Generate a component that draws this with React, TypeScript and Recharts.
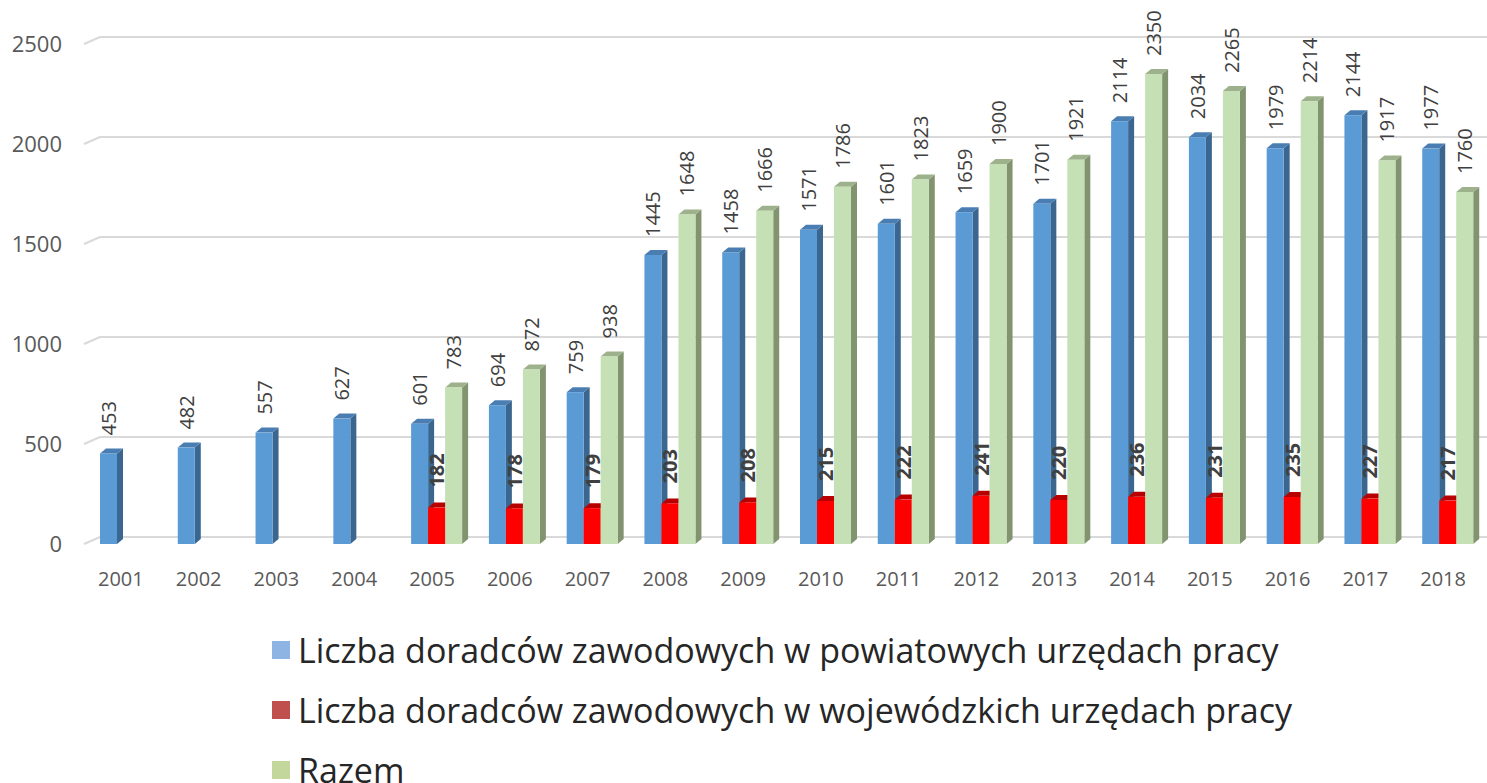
import React from 'react';
import { BarChart, Bar, XAxis, YAxis, CartesianGrid, LabelList } from 'recharts';

// lata + liczba doradców zawodowych
const years = ['2001', '2002', '2003', '2004', '2005', '2006', '2007', '2008', '2009', '2010', '2011', '2012', '2013', '2014', '2015', '2016', '2017', '2018'];
const powiatowe = [453, 482, 557, 627, 601, 694, 759, 1445, 1458, 1571, 1601, 1659, 1701, 2114, 2034, 1979, 2144, 1977];
const wojewodzkie = [null, null, null, null, 182, 178, 179, 203, 208, 215, 222, 241, 220, 236, 231, 235, 227, 217];
const razem = [null, null, null, null, 783, 872, 938, 1648, 1666, 1786, 1823, 1900, 1921, 2350, 2265, 2214, 1917, 1760];
const yTicks = [0, 500, 1000, 1500, 2000, 2500];

const seriesNames = [
  'Liczba doradców zawodowych w powiatowych urzędach pracy',
  'Liczba doradców zawodowych w wojewódzkich urzędach pracy',
  'Razem',
];

const data = years.map((y, i) => ({
  year: y,
  pow: powiatowe[i],
  woj: wojewodzkie[i],
  raz: razem[i],
}));

const FONT = '"Open Sans", sans-serif';
const DEPTH_X = 6;
const DEPTH_Y = 5;

// front / side / top colours for the fake 3D columns
const make3D = (front: string, side: string, top: string) => (props: any) => {
  const { x, y, width, height } = props;
  if (height == null || !width || height <= 0) return null;
  const r = x + width;
  const b = y + height;
  return (
    <g>
      <polygon points={`${r},${y} ${r + DEPTH_X},${y - DEPTH_Y} ${r + DEPTH_X},${b - DEPTH_Y} ${r},${b}`} fill={side} />
      <polygon points={`${x},${y} ${x + DEPTH_X},${y - DEPTH_Y} ${r + DEPTH_X},${y - DEPTH_Y} ${r},${y}`} fill={top} />
      <rect x={x} y={y} width={width} height={height} fill={front} />
    </g>
  );
};

const makeLabel = (gap: number, bold: boolean) => (props: any) => {
  const { x, y, width, value } = props;
  if (value == null) return null;
  const cx = x + width / 2;
  const ty = y - gap;
  return (
    <text
      x={cx}
      y={ty}
      transform={`rotate(-90, ${cx}, ${ty})`}
      textAnchor="start"
      dominantBaseline="central"
      fontFamily={FONT}
      fontSize={20}
      fontWeight={bold ? 700 : 400}
      fill="#404040"
    >
      {value}
    </text>
  );
};

const gridLine = (props: any) => {
  const { x1, x2, y1, index } = props;
  return (
    <path
      key={`g-${index}-${y1}`}
      d={`M${x1 - 3},${y1} L${x1 + 13},${y1 - 7} L${x2},${y1 - 7}`}
      stroke="#d9d9d9"
      strokeWidth={2}
      fill="none"
    />
  );
};

const XTick = (props: any) => {
  const { x, y, payload } = props;
  return (
    <text x={x - 5} y={y + 34} textAnchor="middle" fontFamily={FONT} fontSize={20} fill="#595959">
      {payload.value}
    </text>
  );
};

const legendColors = ['#8db4e2', '#c0504d', '#c3d69b'];

const App: React.FC = () => {
  return (
    <div style={{ position: 'absolute', left: 0, top: 0, width: 1487, height: 783, background: '#fff', fontFamily: FONT, overflow: 'hidden' }}>
      <BarChart
        width={1487}
        height={610}
        data={data}
        margin={{ top: 44, right: 0, bottom: 26, left: 0 }}
        barGap={0}
      >
        <CartesianGrid vertical={false} horizontal={gridLine} />
        <XAxis dataKey="year" axisLine={false} tickLine={false} tick={<XTick />} height={40} interval={0} />
        <YAxis
          width={87}
          domain={[0, 2500]}
          ticks={yTicks}
          axisLine={false}
          tickLine={false}
          tickSize={0}
          tickMargin={25}
          tick={{ fontFamily: FONT, fontSize: 22, fill: '#595959' }}
        />
        <Bar dataKey="pow" barSize={17} isAnimationActive={false} shape={make3D('#5b9bd5', '#3a6690', '#4a7eb2')}>
          <LabelList dataKey="pow" content={makeLabel(18, false)} />
        </Bar>
        <Bar dataKey="woj" barSize={17} isAnimationActive={false} shape={make3D('#ff0000', '#c00000', '#b80000')}>
          <LabelList dataKey="woj" content={makeLabel(20, true)} />
        </Bar>
        <Bar dataKey="raz" barSize={17} isAnimationActive={false} shape={make3D('#c5e0b4', '#82936f', '#9db28c')}>
          <LabelList dataKey="raz" content={makeLabel(18, false)} />
        </Bar>
      </BarChart>
      <div style={{ position: 'absolute', left: 272, top: 620 }}>
        {seriesNames.map((name, i) => (
          <div key={name} style={{ display: 'flex', alignItems: 'center', height: i === 2 ? 26 : 60, marginTop: i === 2 ? 17 : 0 }}>
            <div style={{ width: 18, height: 18, background: legendColors[i], marginRight: 8 }} />
            <span style={{ fontSize: 34, lineHeight: '24px', color: '#262626' }}>{name}</span>
          </div>
        ))}
      </div>
    </div>
  );
};

export default App;
